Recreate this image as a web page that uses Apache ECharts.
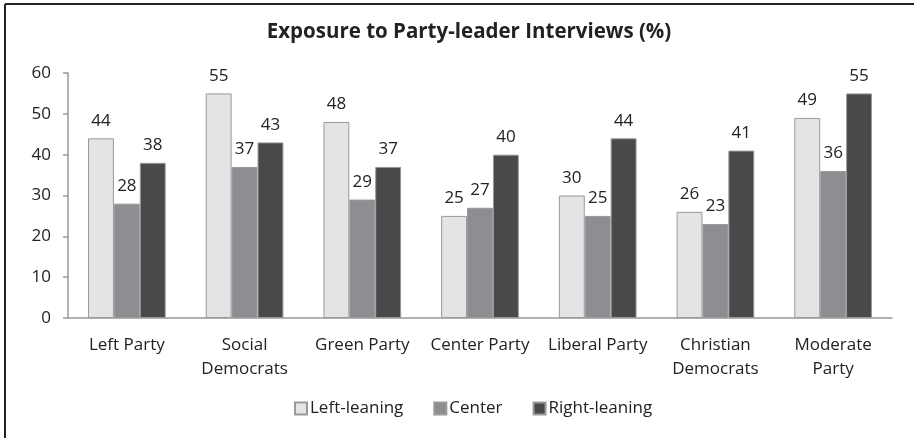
<!DOCTYPE html>
<html>
<head>
<meta charset="utf-8">
<script src="https://cdn.jsdelivr.net/npm/echarts@6/dist/echarts.min.js"></script>
<style>html,body{margin:0;padding:0;background:#fff}#c{width:914px;height:438px}</style>
</head>
<body>
<div id="c"></div>
<script>
const titleText = 'Exposure to Party-leader Interviews (%)';
const categories = ['Left Party', 'Social\nDemocrats', 'Green Party', 'Center Party', 'Liberal Party', 'Christian\nDemocrats', 'Moderate\nParty'];
const seriesNames = ['Left-leaning', 'Center', 'Right-leaning'];
const leftLeaning = [44, 55, 48, 25, 30, 26, 49];
const center = [28, 37, 29, 27, 25, 23, 36];
const rightLeaning = [38, 43, 37, 40, 44, 41, 55];
const yTicks = [0, 10, 20, 30, 40, 50, 60];

const colors = ['#e4e4e6', '#8d8e91', '#49494b'];
const font = 'Open Sans';
const chart = echarts.init(document.getElementById('c'), null, {renderer: 'canvas'});
const values = [leftLeaning, center, rightLeaning];
chart.setOption({
  animation: false,
  backgroundColor: '#fff',
  title: {
    text: titleText, left: 464, top: 17, textAlign: 'center',
    textStyle: {fontFamily: font, fontWeight: 'bold', fontSize: 20.5, color: '#222'}
  },
  legend: {
    data: seriesNames, bottom: 16, left: 289, itemWidth: 12, itemHeight: 12, itemGap: 30,
    textStyle: {fontFamily: font, fontSize: 17, color: '#222', padding: [0,0,0,-2]},
    icon: 'rect'
  },
  grid: {left: 68, right: 22, top: 73, bottom: 120},
  xAxis: {
    type: 'category', data: categories,
    axisLine: {lineStyle: {color: '#999', width: 1.5}},
    axisTick: {length: 5, lineStyle: {color: '#999', width: 1.5}},
    axisLabel: {fontFamily: font, fontSize: 17, color: '#222', margin: 15, lineHeight: 24, interval: 0}
  },
  yAxis: {
    type: 'value', min: yTicks[0], max: yTicks[yTicks.length - 1], interval: 10,
    splitLine: {show: false},
    axisLine: {show: true, lineStyle: {color: '#999', width: 1.5}},
    axisTick: {show: true, length: 5, lineStyle: {color: '#999', width: 1.5}},
    axisLabel: {fontFamily: font, fontSize: 17, color: '#222', margin: 17}
  },
  series: seriesNames.map((n, i) => ({
    name: n, type: 'bar', data: values[i],
    barGap: '0%', barCategoryGap: '34%',
    itemStyle: {color: colors[i], borderColor: '#999', borderWidth: 1},
    label: {show: true, position: 'top', distance: 9, fontFamily: font, fontSize: 17, color: '#222'}
  })),
  graphic: [
    {type: 'line', shape: {x1: 5, y1: 4, x2: 914, y2: 4}, style: {stroke: '#222', lineWidth: 2}},
    {type: 'line', shape: {x1: 5, y1: 4, x2: 5, y2: 438}, style: {stroke: '#222', lineWidth: 2}}
  ]
});
</script>
</body>
</html>
